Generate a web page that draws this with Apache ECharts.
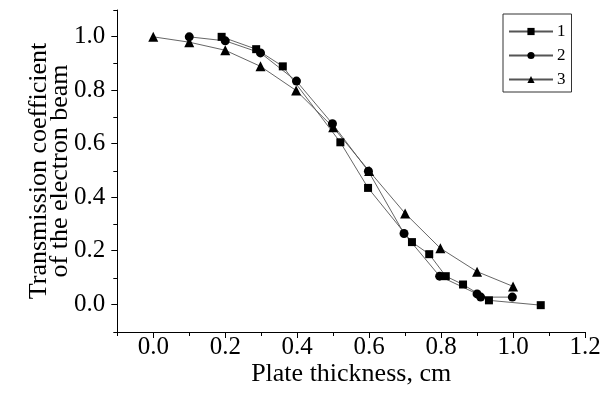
<!DOCTYPE html>
<html>
<head>
<meta charset="utf-8">
<script src="https://cdn.jsdelivr.net/npm/echarts@6/dist/echarts.min.js"></script>
<style>html,body{margin:0;padding:0;background:#fff;}#c{width:612px;height:396px;}</style>
</head>
<body>
<div id="c"></div>
<script>
// Series 1 (squares)
const s1x = [0.19, 0.286, 0.36, 0.52, 0.597, 0.719, 0.767, 0.813, 0.861, 0.933, 1.077];
const s1y = [1.0, 0.954, 0.89, 0.607, 0.437, 0.235, 0.19, 0.108, 0.077, 0.018, 0.0];
// Series 2 (circles)
const s2x = [0.1, 0.2, 0.298, 0.398, 0.498, 0.598, 0.697, 0.796, 0.9, 0.91, 0.998];
const s2y = [1.0, 0.985, 0.94, 0.835, 0.676, 0.499, 0.267, 0.108, 0.042, 0.03, 0.03];
// Series 3 (triangles)
const s3x = [0.0, 0.1, 0.2, 0.298, 0.397, 0.5, 0.6, 0.70, 0.798, 0.9, 1.0];
const s3y = [1.0, 0.98, 0.95, 0.89, 0.80, 0.663, 0.50, 0.342, 0.212, 0.125, 0.07];
const seriesNames = ['1', '2', '3'];
const xTitle = 'Plate thickness, cm';
const yTitle = 'Transmission coefficient\nof the electron beam';

const zip = (xs, ys) => xs.map((x, i) => [x, ys[i]]);
const font = 'Liberation Serif';
const chart = echarts.init(document.getElementById('c'), null, {renderer: 'canvas'});
const lineStyle = {color: '#555', width: 0.9};
const mk = (name, data, symbol, size) => ({
  name, type: 'line', data, symbol, symbolSize: size, showSymbol: true,
  xAxisIndex: 0, yAxisIndex: 0,
  lineStyle, itemStyle: {color: '#000'}, animation: false
});
chart.setOption({
  animation: false,
  grid: [
    {left: 117.3, right: 27, top: 10, bottom: 64},
    {left: 153.3, right: 27, top: 10, bottom: 64},
    {left: 117.3, right: 27, top: 36.7, bottom: 92}
  ],
  xAxis: [
    {gridIndex: 0, type: 'value', min: -0.1, max: 1.2, interval: 0.2,
     axisLine: {show: true, onZero: false, lineStyle: {color: '#000', width: 1}},
     axisTick: {show: true, length: 4, lineStyle: {color: '#000'}},
     axisLabel: {show: false}, splitLine: {show: false},
     name: xTitle, nameLocation: 'middle', nameGap: 29,
     nameTextStyle: {fontFamily: font, fontSize: 26, color: '#000'}},
    {gridIndex: 1, type: 'value', min: 0, max: 1.2, interval: 0.2,
     axisLine: {show: false, onZero: false},
     axisTick: {show: true, length: 6, lineStyle: {color: '#000'}},
     axisLabel: {show: true, fontFamily: font, fontSize: 25, color: '#000', margin: 3,
       formatter: v => v.toFixed(1)},
     splitLine: {show: false}},
    {gridIndex: 2, type: 'value', min: -0.1, max: 1.2, show: false}
  ],
  yAxis: [
    {gridIndex: 0, type: 'value', min: -0.1, max: 1.1, interval: 0.2,
     axisLine: {show: true, onZero: false, lineStyle: {color: '#000', width: 1}},
     axisTick: {show: true, length: 4, lineStyle: {color: '#000'}},
     axisLabel: {show: false}, splitLine: {show: false},
     name: yTitle, nameLocation: 'middle', nameGap: 47, nameRotate: 90,
     nameTextStyle: {fontFamily: font, fontSize: 26, color: '#000', lineHeight: 21}},
    {gridIndex: 1, type: 'value', min: -0.1, max: 1.1, show: false},
    {gridIndex: 2, type: 'value', min: 0, max: 1.0, interval: 0.2,
     axisLine: {show: false, onZero: false},
     axisTick: {show: true, length: 6, lineStyle: {color: '#000'}},
     axisLabel: {show: true, fontFamily: font, fontSize: 25, color: '#000', margin: 12,
       formatter: v => v.toFixed(1)},
     splitLine: {show: false}}
  ],
  legend: {
    orient: 'vertical', left: 503, top: 14,
    padding: [9, 6, 4, 5], itemGap: 7, itemWidth: 44, itemHeight: 9,
    borderColor: '#333', borderWidth: 1,
    textStyle: {fontFamily: font, fontSize: 17, color: '#000', padding: [0, 0, 0, -1]},
    data: seriesNames
  },
  series: [
    mk(seriesNames[0], zip(s1x, s1y), 'rect', 8),
    mk(seriesNames[1], zip(s2x, s2y), 'circle', 9),
    mk(seriesNames[2], zip(s3x, s3y), 'triangle', 10)
  ]
});
</script>
</body>
</html>
